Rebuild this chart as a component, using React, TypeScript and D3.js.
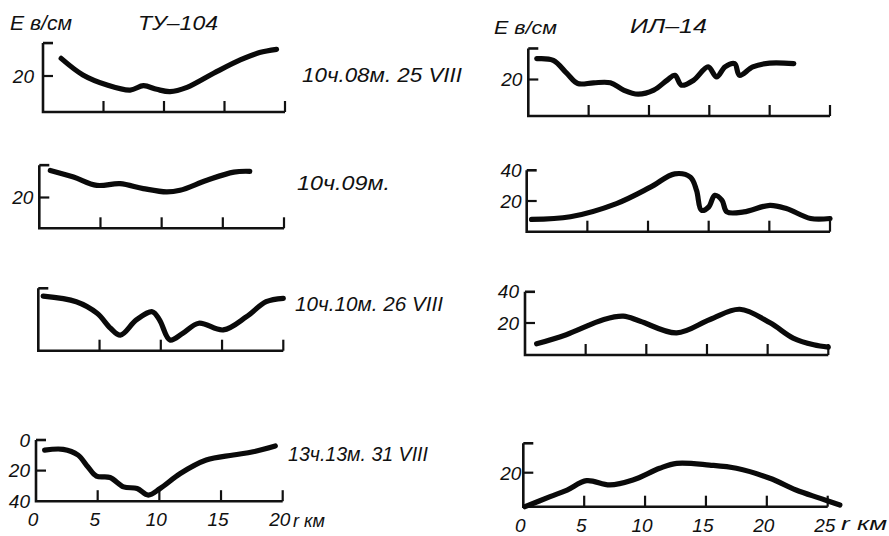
import React from 'react';
import * as d3 from 'd3';

// ---- data: [distance r (km), E (в/см)] ----
const tu1: [number, number][] = [[1.5,29.8],[3.3,20.6],[5.3,15],[7.2,12.2],[8.3,14.6],[9.4,12.6],[10.5,11.3],[11.9,13.7],[14.1,21.5],[16.3,28.9],[17.9,33],[19.3,34.8]];
const tu2: [number, number][] = [[0.9,37.6],[2.8,33.3],[4.7,27.9],[6.6,29],[8.5,25.8],[10.4,23.6],[11.5,24.7],[13.7,31.2],[15.9,36.5],[17.2,37]];
const tu3: [number, number][] = [[0.4,35],[3.1,31.4],[4.8,24],[5.9,14.4],[6.7,10],[8.0,19.7],[9.3,25],[9.9,19.7],[10.75,6.9],[11.8,11.2],[13.1,17.6],[15.1,13.3],[17,21.8],[18.6,31.4],[20,33.6]];
const tu4: [number, number][] = [[0.7,6.6],[2.2,6.1],[3.4,9.8],[4.2,17.5],[4.9,23.6],[6.0,24.5],[7.1,30.6],[8.2,31.7],[9.1,36],[10.06,31.7],[11.7,21.9],[13.8,13.1],[16,9.8],[17.6,7.7],[19.4,3.9]];
const il1: [number, number][] = [[0.7,31.4],[2.07,30.5],[3.2,23.3],[4.1,17.8],[5.4,18.2],[6.8,18.2],[7.9,14.2],[9.1,12],[10.4,14.2],[11.5,19.6],[12.15,22.3],[12.7,16.9],[13.7,19.6],[14.9,26.9],[15.6,21.4],[16.3,26.9],[17.1,28.7],[17.5,22.3],[18.6,26.9],[20,29],[22,28.7]];
const il2: [number, number][] = [[0.4,8],[3.6,9.7],[7.4,18.3],[10.2,29],[12.2,37.7],[13.5,35.5],[14.0,26.9],[14.4,14],[15,16.1],[15.5,23.7],[16.1,20.4],[16.5,12.9],[17.9,12.9],[20.05,17.2],[21.4,15.1],[23.4,8.6],[25,8.6]];
const il3: [number, number][] = [[0.96,7],[3.4,12.7],[6.5,22.2],[8.1,24.3],[9.5,21.1],[12.5,13.8],[15.25,22.2],[17.7,28.6],[20.2,20.1],[22.1,10.6],[23.8,6.35],[25,4.9]];
const il4: [number, number][] = [[0.14,0],[2.2,5.9],[3.6,9.8],[5.2,15.3],[7.1,12.8],[9.0,15.7],[11.2,22.6],[12.6,25.5],[15.3,24.5],[17.5,22.6],[20.25,16.7],[22.4,9.8],[24.4,4.9],[26,1]];

const tuTicks = [0, 5, 10, 15, 20];
const ilTicks = [0, 5, 10, 15, 20, 25];
const timeLabels = ['10ч.08м. 25 VIII', '10ч.09м.', '10ч.10м. 26 VIII', '13ч.13м. 31 VIII'];

// ---- layout ----
type Panel = {
  data: [number, number][]; x0: number; x1: number; kmMax: number; ticks: number[];
  py0: number; py20: number; baseVal: number; topVal: number; tick20: boolean;
  yLabels: number[]; labelGap: number; xLabels: boolean;
};
const panels: Panel[] = [
  { data: tu1, x0: 43, x1: 285, kmMax: 20, ticks: tuTicks, py0: 112, py20: 76, baseVal: 0, topVal: 38.3, tick20: true, yLabels: [20], labelGap: 9, xLabels: false },
  { data: tu2, x0: 39.3, x1: 284, kmMax: 20, ticks: tuTicks, py0: 228.3, py20: 197.5, baseVal: 0, topVal: 41, tick20: true, yLabels: [20], labelGap: 6, xLabels: false },
  { data: tu3, x0: 38.3, x1: 283.3, kmMax: 20, ticks: tuTicks, py0: 350.7, py20: 319.5, baseVal: 0, topVal: 40, tick20: false, yLabels: [], labelGap: 6, xLabels: false },
  { data: tu4, x0: 36, x1: 282.7, kmMax: 20, ticks: tuTicks, py0: 440, py20: 470.6, baseVal: 40, topVal: 0, tick20: true, yLabels: [0, 20, 40], labelGap: 6, xLabels: true },
  { data: il1, x0: 528.3, x1: 830, kmMax: 25, ticks: ilTicks, py0: 116, py20: 79.5, baseVal: 0, topVal: 37, tick20: true, yLabels: [20], labelGap: 6, xLabels: false },
  { data: il2, x0: 526.7, x1: 830, kmMax: 25, ticks: ilTicks, py0: 231.7, py20: 201, baseVal: 0, topVal: 40, tick20: true, yLabels: [40, 20], labelGap: 5, xLabels: false },
  { data: il3, x0: 525, x1: 828.3, kmMax: 25, ticks: ilTicks, py0: 355, py20: 323, baseVal: 0, topVal: 39.5, tick20: true, yLabels: [40, 20], labelGap: 6, xLabels: false },
  { data: il4, x0: 523.3, x1: 827.7, kmMax: 25, ticks: ilTicks, py0: 506.7, py20: 472.7, baseVal: 0, topVal: 37.3, tick20: true, yLabels: [20], labelGap: 2, xLabels: true },
];
const timeLabelPos = [
  { x: 302, y: 82, w: 160 }, { x: 297, y: 190, w: 93 }, { x: 295, y: 311, w: 148 }, { x: 288, y: 461, w: 140 },
];

const FONT = '"Liberation Sans", Arial, sans-serif';

function PanelView({ p }: { p: Panel }) {
  const xs = d3.scaleLinear().domain([0, p.kmMax]).range([p.x0, p.x1]);
  const ys = d3.scaleLinear().domain([0, 20]).range([p.py0, p.py20]);
  const base = ys(p.baseVal);
  const top = ys(p.topVal);
  const line = d3.line<[number, number]>()
    .x(d => xs(d[0])).y(d => ys(d[1]))
    .curve(d3.curveCatmullRom.alpha(0.5));
  const tickLen = 11;
  const yTickLen = 10;
  return (
    <g>
      <path d={`M${p.x0},${top}L${p.x0},${base}L${p.x1},${base}`} fill="none" stroke="#111" strokeWidth={2.6} strokeLinejoin="miter" />
      <line x1={p.x0} x2={p.x0 + yTickLen} y1={top} y2={top} stroke="#111" strokeWidth={2.6} />
      {p.tick20 && <line x1={p.x0} x2={p.x0 + yTickLen} y1={ys(20)} y2={ys(20)} stroke="#111" strokeWidth={2.2} />}
      {p.ticks.slice(1).map(t => (
        <line key={t} x1={xs(t)} x2={xs(t)} y1={base} y2={base - tickLen} stroke="#111" strokeWidth={2.2} />
      ))}
      <path d={line(p.data) || ''} fill="none" stroke="#0a0a0a" strokeWidth={5.2} strokeLinecap="round" strokeLinejoin="round" />
      {p.yLabels.map(v => (
        <text key={v} x={p.x0 - p.labelGap} y={ys(v)} dy="0.36em" textAnchor="end" fontFamily={FONT} fontStyle="italic" fontSize={19} fill="#111">{v}</text>
      ))}
      {p.xLabels && p.ticks.map(t => (
        <text key={t} x={xs(t) - 3} y={base + 18} dy="0.36em" textAnchor="middle" fontFamily={FONT} fontStyle="italic" fontSize={19} fill="#111">{t}</text>
      ))}
    </g>
  );
}

export default function App() {
  return (
    <svg width={889} height={536} style={{ position: 'absolute', left: 0, top: 0, background: '#fff' }}>
      <rect width={889} height={536} fill="#fff" />
      <text x={10} y={30} fontFamily={FONT} fontStyle="italic" fontSize={21} textLength={62} lengthAdjust="spacingAndGlyphs" fill="#111">E в/см</text>
      <text x={138} y={30} fontFamily={FONT} fontStyle="italic" fontSize={21} textLength={80} lengthAdjust="spacingAndGlyphs" fill="#111">ТУ–104</text>
      <text x={494} y={34} fontFamily={FONT} fontStyle="italic" fontSize={19} textLength={63} lengthAdjust="spacingAndGlyphs" fill="#111">E в/см</text>
      <text x={630} y={33} fontFamily={FONT} fontStyle="italic" fontSize={21} textLength={77} lengthAdjust="spacingAndGlyphs" fill="#111">ИЛ–14</text>
      {panels.map((p, i) => <PanelView key={i} p={p} />)}
      {timeLabels.map((t, i) => (
        <text key={t} x={timeLabelPos[i].x} y={timeLabelPos[i].y} fontFamily={FONT} fontStyle="italic" fontSize={20} textLength={timeLabelPos[i].w} lengthAdjust="spacingAndGlyphs" fill="#111">{t}</text>
      ))}
      <text x={293} y={527} fontFamily={FONT} fontStyle="italic" fontSize={19} textLength={32} lengthAdjust="spacingAndGlyphs" fill="#111">r км</text>
      <text x={841} y={530} fontFamily={FONT} fontStyle="italic" fontSize={19} textLength={46} lengthAdjust="spacingAndGlyphs" fill="#111">r км</text>
    </svg>
  );
}
